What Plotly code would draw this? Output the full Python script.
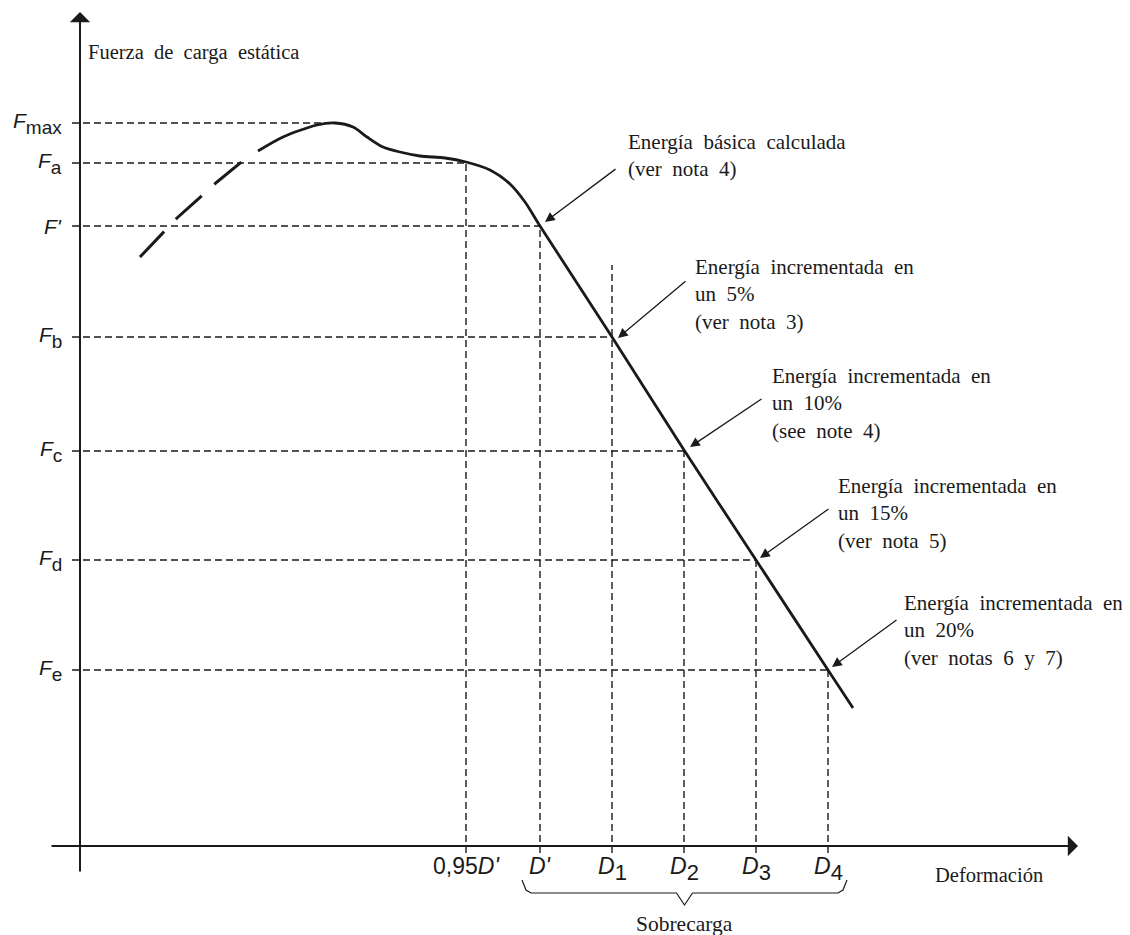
import plotly.graph_objects as go

# Units are arbitrary (the sketch has no scale): origin where the axes cross.
# y levels of the force marks and how far right each dashed guide runs
y_tick_main = ["<i>F</i>", "<i>F</i>", "<i>F'</i>", "<i>F</i>", "<i>F</i>", "<i>F</i>", "<i>F</i>"]
y_tick_sub = ["max", "a", "", "b", "c", "d", "e"]
y_ticks = [72.3, 68.3, 62.0, 50.9, 39.5, 28.6, 17.6]
y_guide_end = [25.5, 38.6, 46.0, 53.2, 60.4, 67.6, 74.8]

# deformation marks and how high each vertical guide rises
x_tick_main = ["0,95<i>D'</i>", "<i>D'</i>", "<i>D</i>", "<i>D</i>", "<i>D</i>", "<i>D</i>"]
x_tick_sub = ["", "", "1", "2", "3", "4"]
x_ticks = [38.6, 46.0, 53.2, 60.4, 67.6, 74.8]
x_guide_top = [68.3, 62.0, 58.1, 39.5, 28.6, 17.6]

# load / deformation curve (solid part)
curve_x = [17.8, 20.3, 23.7, 25.5, 27.3, 28.7, 30.3, 32.0, 34.0, 36.5, 38.6, 41.0, 43.0, 44.5, 46.0,
           53.2, 60.4, 67.6, 74.8, 77.3]
curve_y = [69.5, 70.9, 72.1, 72.3, 71.9, 70.9, 69.9, 69.4, 69.0, 68.8, 68.4, 67.6, 66.2, 64.4, 62.0,
           50.9, 39.6, 28.6, 17.6, 13.8]
# dashed lead-in of the curve
lead_x = [6.0, 9.7, 13.7, 16.5]
lead_y = [58.9, 62.8, 66.4, 68.7]

# callouts
callout_text = [
    "Energía básica calculada<br>(ver nota 4)",
    "Energía incrementada en<br>un 5%<br>(ver nota 3)",
    "Energía incrementada en<br>un 10%<br>(see note 4)",
    "Energía incrementada en<br>un 15%<br>(ver nota 5)",
    "Energía incrementada en<br>un 20%<br>(ver notas 6 y 7)",
]
callout_text_x = [54.6, 61.3, 69.0, 75.6, 82.2]
callout_text_y = [69.05, 55.2, 44.3, 33.3, 21.6]
callout_tail_x = [53.7, 60.7, 68.3, 75.0, 81.8]
callout_tail_y = [67.8, 56.6, 44.8, 33.8, 22.7]
callout_tip_x = [46.5, 53.8, 61.0, 68.0, 75.2]
callout_tip_y = [62.4, 50.8, 39.9, 28.8, 17.9]

INK = "#1a1a1a"
SERIF = "Liberation Serif"
SANS = "Liberation Sans"
SP = "\u2002"  # wide word spacing like the original typesetting


def spaced(s):
    return s.replace(" ", SP)


def label(main, sub, size, sub_size):
    txt = f"<span style='font-size:{size}px'>{main}</span>"
    if sub:
        txt += f"<sub><span style='font-size:{sub_size}px'>{sub}</span></sub>"
    return txt


def arrow(x0, y0, x1, y1, head, size, width):
    # empty annotation used only for its arrow, tail (x0, y0) -> tip (x1, y1)
    return dict(x=x1, y=y1, ax=x0, ay=y0, xref="x", yref="y", axref="x", ayref="y",
                text="", showarrow=True, arrowhead=head, arrowsize=size, arrowwidth=width,
                arrowcolor=INK, font=dict(size=1))


fig = go.Figure()

# horizontal dashed guides
hx, hy = [], []
for yv, xe in zip(y_ticks, y_guide_end):
    hx += [-0.8, xe, None]
    hy += [yv, yv, None]
fig.add_trace(go.Scatter(x=hx, y=hy, mode="lines",
                         line=dict(color=INK, width=1.4, dash="7px,4px"), hoverinfo="skip"))

# vertical dashed guides
vx, vy = [], []
for xv, yt in zip(x_ticks, x_guide_top):
    vx += [xv, xv, None]
    vy += [-0.7, yt, None]
fig.add_trace(go.Scatter(x=vx, y=vy, mode="lines",
                         line=dict(color=INK, width=1.4, dash="7px,4px"), hoverinfo="skip"))

# curve
fig.add_trace(go.Scatter(x=lead_x, y=lead_y, mode="lines",
                         line=dict(color=INK, width=3, dash="35px,17px"), hoverinfo="skip"))
fig.add_trace(go.Scatter(x=curve_x, y=curve_y, mode="lines",
                         line=dict(color=INK, width=2.8, shape="spline", smoothing=0.8),
                         hoverinfo="skip"))

# brace under the overload range
bl = x_ticks[1] - 1.8
br = x_ticks[-1] + 1.9
bm = (bl + br) / 2
fig.add_trace(go.Scatter(
    x=[bl, bl + 0.4, bl + 0.9, bm - 0.8, bm, bm + 0.8, br - 0.9, br - 0.4, br],
    y=[-3.4, -4.4, -4.7, -4.7, -5.9, -4.7, -4.7, -4.4, -3.4],
    mode="lines", line=dict(color=INK, width=1.2), hoverinfo="skip"))

annotations = []

# axes with arrow heads
annotations.append(arrow(0, -2.7, 0, 83.4, 1, 1.7, 2))
annotations.append(arrow(-3.0, 0, 99.8, 0, 1, 1.7, 2))

# axis titles
annotations.append(dict(x=0.6, y=79.4, text=spaced("Fuerza de carga estática"), showarrow=False,
                        xanchor="left", yanchor="middle", font=dict(family=SERIF, size=20.5, color=INK)))
annotations.append(dict(x=85.3, y=-2.9, text="Deformación", showarrow=False,
                        xanchor="left", yanchor="middle", font=dict(family=SERIF, size=20.5, color=INK)))
annotations.append(dict(x=bm, y=-8.9, text="Sobrecarga", showarrow=False, yshift=-3,
                        xanchor="center", yanchor="bottom", font=dict(family=SERIF, size=21.5, color=INK)))

# y tick labels
for m, s, yv in zip(y_tick_main, y_tick_sub, y_ticks):
    annotations.append(dict(x=-1.6, y=yv, text=label(m, s, 21, 19), showarrow=False,
                            xanchor="right", yanchor="middle",
                            font=dict(family=SANS, size=30, color=INK)))

# x tick labels
for m, s, xv in zip(x_tick_main, x_tick_sub, x_ticks):
    annotations.append(dict(x=xv, y=-0.5, text=label(m, s, 23, 22), showarrow=False,
                            xanchor="center", yanchor="top",
                            font=dict(family=SANS, size=30, color=INK)))

# callouts
for t, tx, ty in zip(callout_text, callout_text_x, callout_text_y):
    annotations.append(dict(x=tx, y=ty, text=spaced(t), showarrow=False, align="left",
                            xanchor="left", yanchor="middle",
                            font=dict(family=SERIF, size=21, color=INK)))
for ax_, ay_, px, py in zip(callout_tail_x, callout_tail_y, callout_tip_x, callout_tip_y):
    annotations.append(arrow(ax_, ay_, px, py, 2, 1.5, 1.3))

# the page body keeps an 8px margin, so the figure is 8px smaller and the
# ranges start 8px in
fig.update_layout(
    width=1122, height=927,
    margin=dict(l=0, r=0, t=0, b=0),
    plot_bgcolor="white", paper_bgcolor="white",
    showlegend=False,
    xaxis=dict(range=[-7.2, 105.0], visible=False, fixedrange=True),
    yaxis=dict(range=[-8.9, 83.8], visible=False, fixedrange=True),
    annotations=annotations,
)

fig.write_html("out.html")
